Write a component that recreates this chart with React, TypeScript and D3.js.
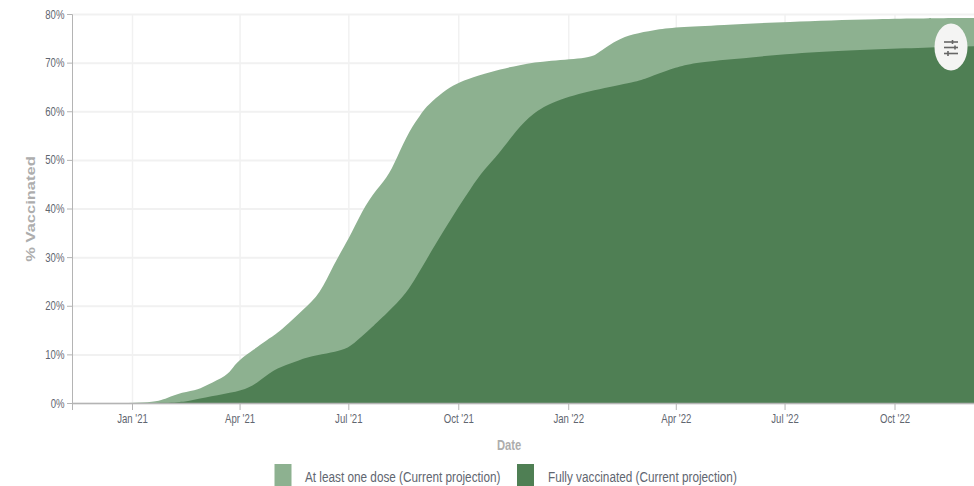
import React from "react";
import * as d3 from "d3";

// Cumulative coverage, in percent of the population, by date.
const oneDoseDates = [
  "2020-11-12", "2021-01-18", "2021-01-30", "2021-02-11", "2021-02-26", "2021-03-04", "2021-03-21",
  "2021-03-26", "2021-04-01", "2021-04-12", "2021-04-24", "2021-05-04", "2021-05-24", "2021-06-07",
  "2021-06-18", "2021-07-02", "2021-07-09", "2021-07-21", "2021-08-02", "2021-08-10", "2021-08-21",
  "2021-08-30", "2021-09-03", "2021-09-15", "2021-09-26", "2021-10-08", "2021-10-27", "2021-11-21",
  "2021-12-16", "2022-01-19", "2022-01-24", "2022-02-10", "2022-02-24", "2022-03-13", "2022-04-01",
  "2022-05-08", "2022-07-02", "2022-09-14", "2022-12-08",
];
const oneDoseValues = [
  0, 0, 1.1, 2.3, 2.9, 3.8, 5.7, 7.4, 9.1, 11, 13.2, 14.7, 19.4, 22.5, 28.5, 34.3, 38.1, 43.2, 46.3, 50.4, 56.3,
  59.3, 60.9, 63.5, 65.5, 66.7, 68.2, 69.7, 70.5, 71.1, 71.8, 74.8, 76, 76.8, 77.4, 77.8, 78.5, 79.1, 79.3,
];
const fullyDates = [
  "2020-11-12", "2021-02-10", "2021-02-21", "2021-03-13", "2021-04-03", "2021-04-15", "2021-04-29", "2021-05-13",
  "2021-05-27", "2021-06-13", "2021-06-26", "2021-07-04", "2021-07-21", "2021-07-27", "2021-08-16",
  "2021-08-25", "2021-09-03", "2021-09-17", "2021-10-01", "2021-10-10", "2021-10-23", "2021-11-03",
  "2021-11-18", "2021-12-02", "2021-12-19", "2022-01-22", "2022-02-27", "2022-03-07", "2022-03-29",
  "2022-04-10", "2022-05-08", "2022-07-02", "2022-08-24", "2022-12-08",
];
const fullyValues = [
  0, 0, 0.8, 1.7, 2.6, 4.1, 7, 8.2, 9.6, 10.3, 11, 12, 15.8, 17.2, 22, 25.4, 29.2, 35, 40.5, 43.9, 48.4, 51.1,
  56.2, 59.7, 62.2, 64.5, 66.2, 66.9, 68.9, 69.8, 70.6, 71.9, 72.7, 73.5,
];
const xTickDates = [
  "2021-01-01", "2021-04-01", "2021-07-01", "2021-10-01", "2022-01-01", "2022-04-01", "2022-07-01", "2022-10-01",
];
const yTickValues = [0, 10, 20, 30, 40, 50, 60, 70, 80];
const legendLabels = ["At least one dose (Current projection)", "Fully vaccinated (Current projection)"];

const WIDTH = 974;
const HEIGHT = 486;
const LIGHT = "#8db190";
const DARK = "#4f7f54";
const GRID = "#f1f1f1";
const AXIS = "#b4b4b4";
const TICK_TEXT = "#5f6670";
const TITLE_TEXT = "#adadad";
const FONT = "'Liberation Sans', Arial, sans-serif";
const SQUEEZE = 0.8;

const parse = d3.utcParse("%Y-%m-%d");
const toDate = (s: string) => parse(s) as Date;
const fmtTick = d3.utcFormat("%b '%y");

const x = d3.scaleUtc().domain([toDate("2021-01-01"), toDate("2022-10-01")]).range([132.5, 895]);
const y = d3.scaleLinear().domain([0, 80]).range([403.5, 14.5]);

function areaPath(dates: string[], values: number[]) {
  const rows = dates.map((d, i) => ({ d: toDate(d), v: values[i] }));
  return (
    d3
      .area<{ d: Date; v: number }>()
      .x((r) => x(r.d))
      .y0(y(0))
      .y1((r) => y(r.v))
      .curve(d3.curveBasis)(rows) ?? ""
  );
}

// Horizontally condensed label, anchored on its own position.
function Label(props: {
  x: number;
  y: number;
  anchor: "start" | "middle" | "end";
  size: number;
  fill: string;
  weight?: number;
  squeeze?: number;
  children: string;
}) {
  const { x: px, y: py, anchor, size, fill, weight = 400, squeeze = SQUEEZE, children } = props;
  return (
    <text
      transform={`translate(${px},${py}) scale(${squeeze},1)`}
      textAnchor={anchor}
      fontFamily={FONT}
      fontSize={size}
      fontWeight={weight}
      fill={fill}
    >
      {children}
    </text>
  );
}

export default function App() {
  const plotLeft = 72.5;
  const baseline = y(0);
  return (
    <svg
      width={WIDTH}
      height={HEIGHT}
      viewBox={`0 0 ${WIDTH} ${HEIGHT}`}
      style={{ position: "fixed", left: 0, top: 0, background: "#fff" }}
    >
      {/* Gridlines */}
      {yTickValues.map((v) => (
        <line key={v} x1={plotLeft} x2={WIDTH} y1={y(v)} y2={y(v)} stroke={GRID} strokeWidth={2} />
      ))}
      {xTickDates.map((d) => (
        <line key={d} x1={x(toDate(d))} x2={x(toDate(d))} y1={y(80)} y2={baseline} stroke={GRID} strokeWidth={1.5} />
      ))}

      {/* Coverage areas */}
      <path d={areaPath(oneDoseDates, oneDoseValues)} fill={LIGHT} />
      <path d={areaPath(fullyDates, fullyValues)} fill={DARK} />

      {/* Y axis */}
      <line x1={plotLeft} x2={plotLeft} y1={y(80)} y2={410} stroke={AXIS} strokeWidth={1} />
      {yTickValues.map((v) => (
        <g key={v}>
          <line x1={67} x2={plotLeft} y1={y(v)} y2={y(v)} stroke={AXIS} strokeWidth={1} />
          <Label x={64.5} y={y(v) + 4} anchor="end" size={12} fill={TICK_TEXT}>
            {`${v}%`}
          </Label>
        </g>
      ))}

      {/* X axis */}
      <line x1={plotLeft} x2={WIDTH} y1={baseline} y2={baseline} stroke={AXIS} strokeWidth={1.5} />
      {xTickDates.map((d) => (
        <g key={d}>
          <line x1={x(toDate(d))} x2={x(toDate(d))} y1={baseline} y2={410} stroke={AXIS} strokeWidth={1} />
          <Label x={x(toDate(d))} y={423} anchor="middle" size={12} fill={TICK_TEXT}>
            {fmtTick(toDate(d))}
          </Label>
        </g>
      ))}

      {/* Axis titles */}
      <Label x={509} y={450} anchor="middle" size={14} fill={TITLE_TEXT} weight={700}>
        Date
      </Label>
      <g transform="translate(35,209) rotate(-90) scale(1.18,0.85)">
        <text textAnchor="middle" fontFamily={FONT} fontSize={14} fontWeight={700} fill={TITLE_TEXT}>
          % Vaccinated
        </text>
      </g>

      {/* Legend */}
      <rect x={274.5} y={464} width={17} height={22} fill={LIGHT} />
      <Label x={305} y={482} anchor="start" size={14.5} squeeze={0.812} fill={TICK_TEXT}>
        {legendLabels[0]}
      </Label>
      <rect x={517} y={464} width={17} height={22} fill={DARK} />
      <Label x={548} y={482} anchor="start" size={14.5} squeeze={0.812} fill={TICK_TEXT}>
        {legendLabels[1]}
      </Label>

      {/* Chart settings button */}
      <ellipse cx={951} cy={47} rx={16.5} ry={23.5} fill="#f4f4f3" />
      <g stroke="#666" strokeWidth={1.6}>
        <line x1={944} x2={958} y1={42} y2={42} />
        <line x1={944} x2={958} y1={47.5} y2={47.5} />
        <line x1={944} x2={958} y1={53.5} y2={53.5} />
        <line x1={952.5} x2={952.5} y1={40} y2={44} />
        <line x1={955} x2={955} y1={45.5} y2={49.5} />
        <line x1={948} x2={948} y1={51} y2={56} />
      </g>
    </svg>
  );
}
